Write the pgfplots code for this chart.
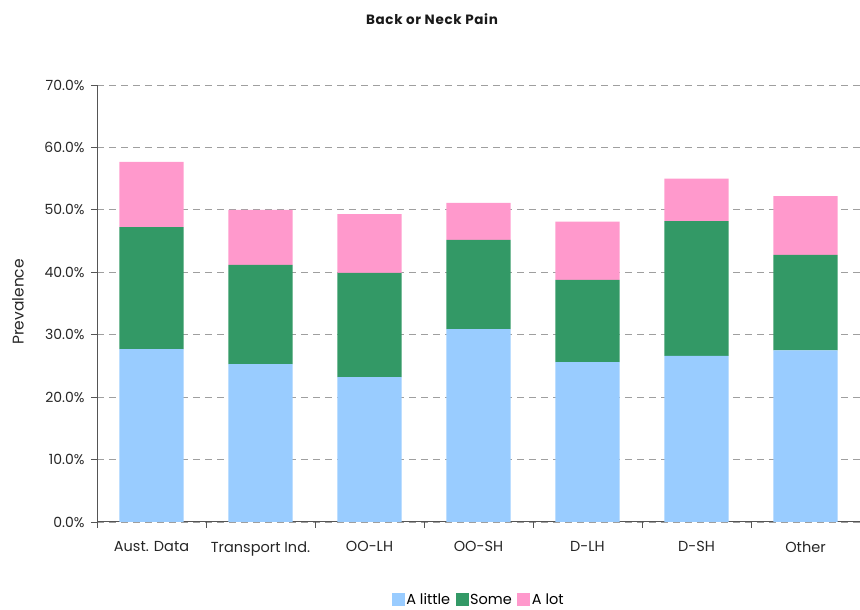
\documentclass[border=0pt]{standalone}
\usepackage{fontspec}
\setmainfont{Poppins}
\newfontfamily\titlefont[LetterSpace=5]{Poppins}
\usepackage{pgfplots}
\pgfplotsset{compat=1.18}
\definecolor{clittle}{HTML}{99CCFF}
\definecolor{csome}{HTML}{339966}
\definecolor{clot}{HTML}{FF99CC}
\definecolor{axgray}{HTML}{555555}
\begin{document}
\begin{tikzpicture}[x=1pt,y=1pt]
\useasboundingbox (0,0) rectangle (860,610);
\node[font=\titlefont\fontsize{13.5}{15}\selectfont\bfseries, text=black!90] at (432,591) {Back or Neck Pain};
\node[rotate=90,font=\fontsize{15.5}{17}\selectfont,text=black!85] at (18,308) {Prevalence};
\begin{axis}[
  at={(97pt,88pt)}, anchor=south west,
  scale only axis, width=763pt, height=437pt,
  ymin=0, ymax=70, xmin=-0.5, xmax=6.5,
  ybar stacked, bar width=0.59,
  axis x line*=bottom, axis y line*=left,
  axis line style={axgray, line width=1pt},
  xtick={0,1,2,3,4,5,6},
  xticklabels={Aust. Data,Transport Ind.,OO-LH,OO-SH,D-LH,D-SH,Other},
  major x tick style={draw=none},
  minor xtick={-0.5,0.5,1.5,2.5,3.5,4.5,5.5,6.5},
  minor tick length=6pt,
  minor x tick style={axgray, line width=0.8pt},
  ytick={0,10,...,70},
  major tick length=6pt,
  tick align=outside,
  y tick style={axgray, line width=0.8pt},
  yticklabel={\pgfmathprintnumber[fixed,fixed zerofill,precision=1]{\tick}\%},
  /pgf/number format/assume math mode=true,
  ymajorgrids, grid style={dash pattern=on 7pt off 5pt, gray!75, line width=0.8pt},
  ticklabel style={text=black!85},
  yticklabel style={font=\fontsize{14}{16}\selectfont, xshift=-3pt},
  xticklabel style={font=\fontsize{14.5}{16}\selectfont, yshift=-10pt},
  legend style={at={(0.5,-0.178)}, anchor=center, draw=none, legend columns=3,
    font=\fontsize{14.5}{16}\selectfont, inner sep=0pt,
    /tikz/every even column/.append style={column sep=4pt},
    nodes={inner sep=1.5pt}},
  legend image code/.code={\fill[#1] (0pt,-6pt) rectangle (13pt,7pt);},
]
\addplot[fill=clittle, draw=none] coordinates {(0,27.7) (1,25.3) (2,23.2) (3,30.9) (4,25.6) (5,26.6) (6,27.5)};
\addplot[fill=csome, draw=none] coordinates {(0,19.55) (1,15.9) (2,16.7) (3,14.3) (4,13.2) (5,21.6) (6,15.3)};
\addplot[fill=clot, draw=none] coordinates {(0,10.45) (1,8.8) (2,9.4) (3,5.9) (4,9.3) (5,6.8) (6,9.4)};
\legend{A little, Some, A lot}
\end{axis}
\end{tikzpicture}
\end{document}
